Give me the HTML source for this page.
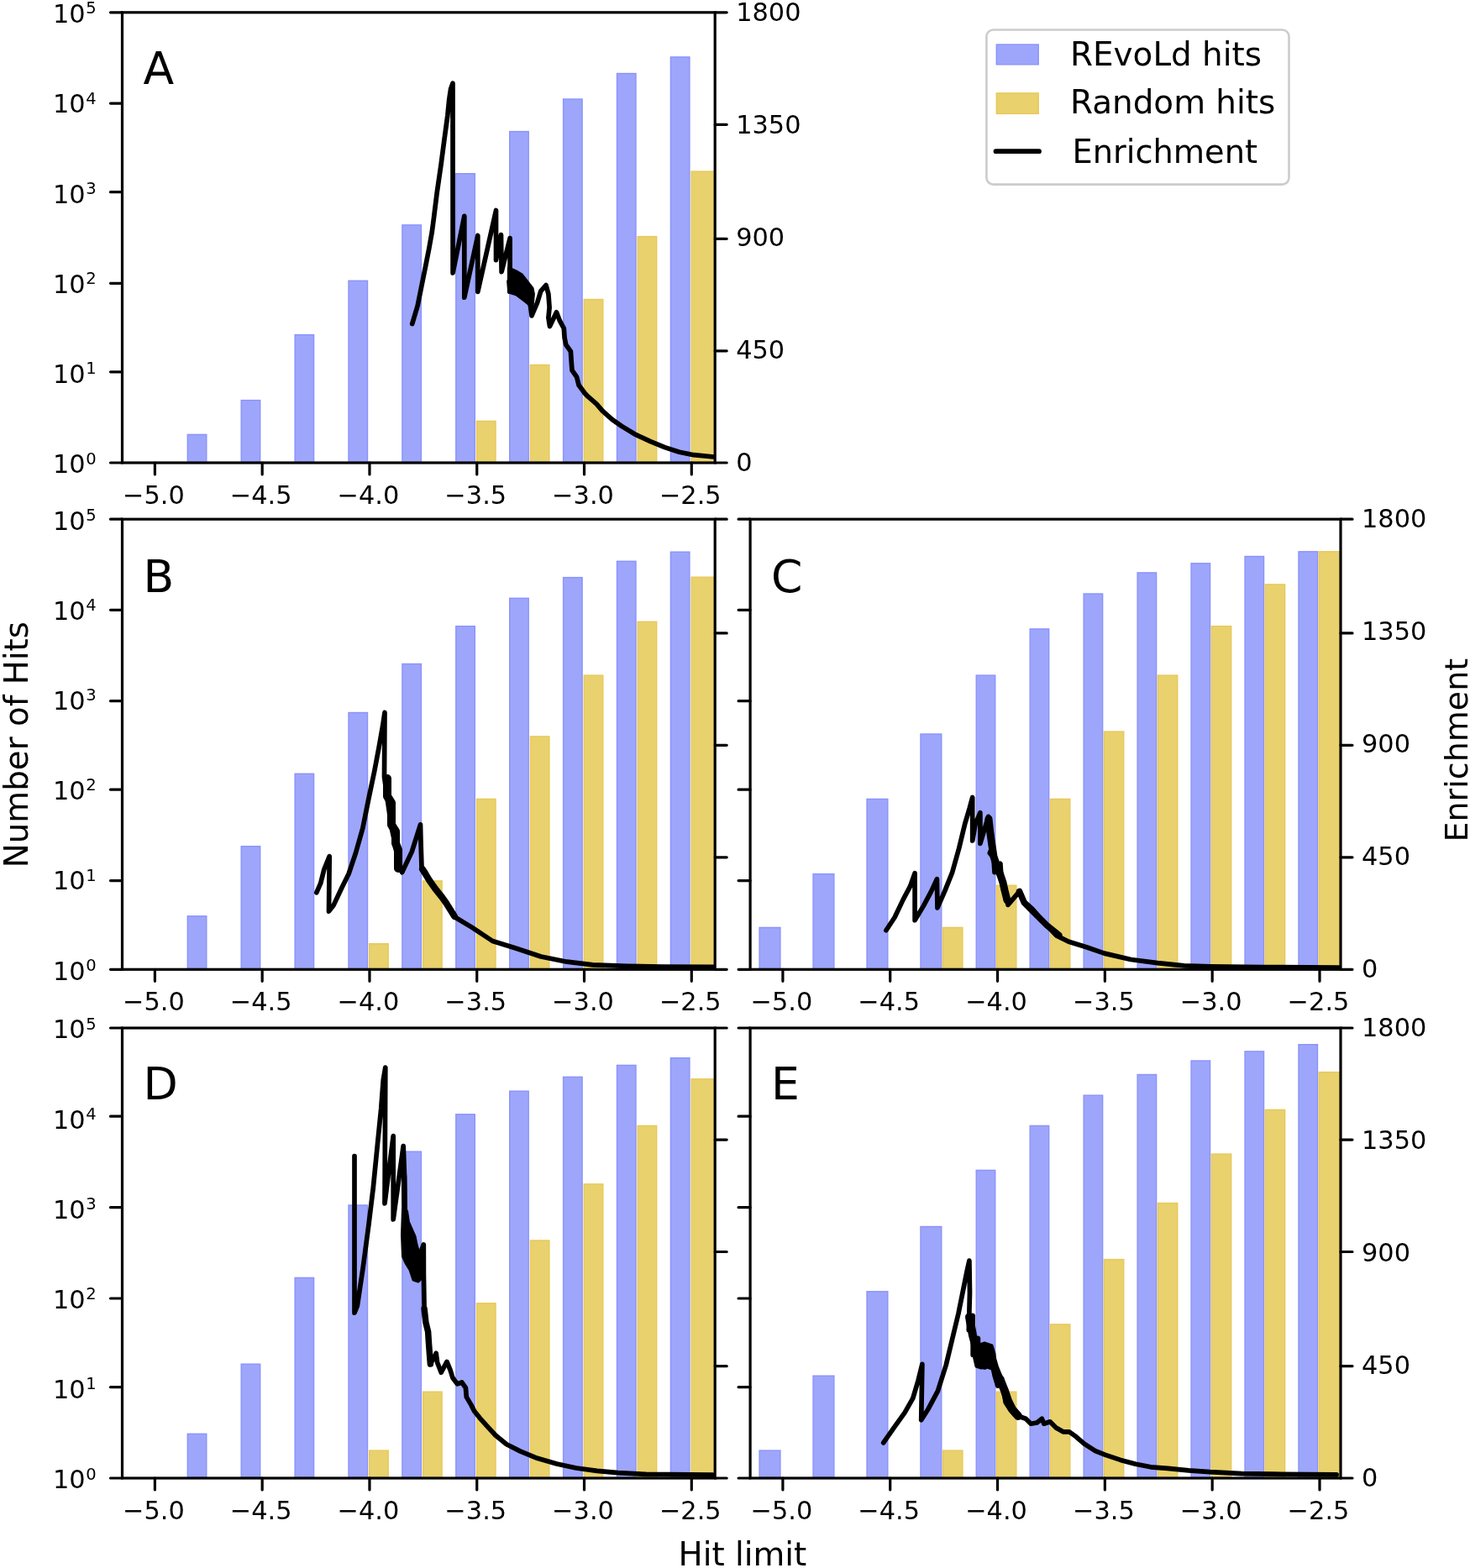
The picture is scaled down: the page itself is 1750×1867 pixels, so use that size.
<!DOCTYPE html>
<html><head><meta charset="utf-8"><title>Hit enrichment</title>
<style>
html,body{margin:0;padding:0;background:#fff;}
body{width:1750px;height:1867px;overflow:hidden;}
svg{display:block;}
text{font-family:'DejaVu Sans', 'Liberation Sans', sans-serif;fill:#000;}
.tl{font-size:30.4px;}
.sup{font-size:19.5px;}
.lab{font-size:38px;}
.lab2{font-size:38.8px;}
.lg{font-size:38.9px;}
.lg3{font-size:38.3px;}
.let{font-size:53.6px;}
.bb{fill:#9ea6fb;stroke:#8a93fb;stroke-width:1.4;}
.gb{fill:#e9d16d;stroke:#e8c85a;stroke-width:1.4;}
.en{fill:none;stroke:#000;stroke-width:5.7;stroke-linejoin:round;stroke-linecap:round;}
.sp{fill:none;stroke:#000;stroke-width:3.2;}
.tk{fill:none;stroke:#000;stroke-width:3.2;stroke-linecap:round;}
</style></head>
<body>
<svg xmlns="http://www.w3.org/2000/svg" width="1750" height="1867" viewBox="0 0 1750 1867">
<rect width="1750" height="1867" fill="#fff"/>
<clipPath id="clipA"><rect x="145.5" y="14.8" width="705.7" height="536.2"/></clipPath>
<g clip-path="url(#clipA)">
<rect class="bb" x="223.3" y="517.4" width="22.5" height="34.3"/>
<rect class="bb" x="287.2" y="476.6" width="22.5" height="75.1"/>
<rect class="bb" x="351.1" y="398.6" width="22.5" height="153.1"/>
<rect class="bb" x="415" y="334.3" width="22.5" height="217.4"/>
<rect class="bb" x="478.9" y="267.9" width="22.5" height="283.8"/>
<rect class="bb" x="542.8" y="206.7" width="22.5" height="345"/>
<rect class="bb" x="606.7" y="156.6" width="22.5" height="395.1"/>
<rect class="bb" x="670.6" y="118" width="22.5" height="433.7"/>
<rect class="bb" x="734.5" y="87.5" width="22.5" height="464.2"/>
<rect class="bb" x="798.4" y="67.9" width="22.5" height="483.8"/>
<rect class="gb" x="567.5" y="501.4" width="22.5" height="50.3"/>
<rect class="gb" x="631.4" y="434.5" width="22.5" height="117.2"/>
<rect class="gb" x="695.3" y="356.5" width="22.5" height="195.2"/>
<rect class="gb" x="759.2" y="281.6" width="22.5" height="270.1"/>
<rect class="gb" x="823.1" y="204.1" width="28.4" height="347.6"/>
<polyline class="en" points="490.7,385.6 497.1,364.2 502.3,338.5 506.6,317.1 510.8,295.7 514.3,276 516.4,260 520.2,229.4 525.1,195.7 528.9,166.7 532.8,137.8 534.7,118.6 536.6,106 539,99.3 539.1,325 552.8,257.3 552.8,354.2 568.8,280.5 568.8,347.3 590.5,250.5 590.5,309.6 596.5,279.6 597.1,323.6 607.1,283.6 607.1,347.2 606,335 614.5,337 622,342 630,352 633,376 639.6,360.5 643.8,346.6 650,339.6 652.9,350.1 654.1,366.1 652.9,378.2 654.5,388.6 662.5,371.8 666.5,382.2 671.3,391 672.1,402.3 673.7,410.3 679.4,418.4 680.2,430.4 681,440.8 686.6,448.9 689,458.5 696.2,468.2 700,472.2 710.3,481.1 717.1,489.1 728.6,499.4 740,507.4 757.1,517.7 774.3,525.7 791.4,532.6 808.6,538.3 825.7,541.7 849.7,544"/>
<polygon points="605.4,318.8 614.5,322.9 621.5,327.1 634,343.1 635.4,350.1 633,376 629.8,362.6 622.9,357.1 614.5,350.8 605.4,348" fill="#000" stroke="#000" stroke-width="3" stroke-linejoin="round"/>
</g>
<rect class="sp" x="145.5" y="14.8" width="705.7" height="536.2"/>
<path class="tk" d="M184.4 551v14M312.18 551v14M439.96 551v14M567.74 551v14M695.52 551v14M823.3 551v14M145.5 551h-14M145.5 442.8h-14M145.5 337.3h-14M145.5 228.7h-14M145.5 123.1h-14M145.5 14.8h-14M851.2 551h14M851.2 417.8h14M851.2 284.3h14M851.2 148.3h14M851.2 14.8h14"/>
<text class="tl" x="182.9" y="600" text-anchor="middle">−5.0</text>
<text class="tl" x="310.68" y="600" text-anchor="middle">−4.5</text>
<text class="tl" x="438.46" y="600" text-anchor="middle">−4.0</text>
<text class="tl" x="566.24" y="600" text-anchor="middle">−3.5</text>
<text class="tl" x="694.02" y="600" text-anchor="middle">−3.0</text>
<text class="tl" x="821.8" y="600" text-anchor="middle">−2.5</text>
<text class="tl" x="101.6" y="563.4" text-anchor="end">10</text>
<text class="sup" x="102.3" y="552.5">0</text>
<text class="tl" x="101.6" y="456.16" text-anchor="end">10</text>
<text class="sup" x="102.3" y="445.26">1</text>
<text class="tl" x="101.6" y="348.92" text-anchor="end">10</text>
<text class="sup" x="102.3" y="338.02">2</text>
<text class="tl" x="101.6" y="241.68" text-anchor="end">10</text>
<text class="sup" x="102.3" y="230.78">3</text>
<text class="tl" x="101.6" y="134.44" text-anchor="end">10</text>
<text class="sup" x="102.3" y="123.54">4</text>
<text class="tl" x="101.6" y="27.2" text-anchor="end">10</text>
<text class="sup" x="102.3" y="16.3">5</text>
<text class="tl" x="876.2" y="561">0</text>
<text class="tl" x="876.2" y="426.95">450</text>
<text class="tl" x="876.2" y="292.9">900</text>
<text class="tl" x="876.2" y="158.85">1350</text>
<text class="tl" x="876.2" y="24.8">1800</text>
<text class="let" x="170.5" y="99.6">A</text>
<clipPath id="clipB"><rect x="145.5" y="618.2" width="705.7" height="536.1"/></clipPath>
<g clip-path="url(#clipB)">
<rect class="bb" x="223.3" y="1090.8" width="22.5" height="64.2"/>
<rect class="bb" x="287.2" y="1007.7" width="22.5" height="147.3"/>
<rect class="bb" x="351.1" y="921.3" width="22.5" height="233.7"/>
<rect class="bb" x="415" y="848.5" width="22.5" height="306.5"/>
<rect class="bb" x="478.9" y="790.5" width="22.5" height="364.5"/>
<rect class="bb" x="542.8" y="745.6" width="22.5" height="409.4"/>
<rect class="bb" x="606.7" y="712.3" width="22.5" height="442.7"/>
<rect class="bb" x="670.6" y="687.6" width="22.5" height="467.4"/>
<rect class="bb" x="734.5" y="668.3" width="22.5" height="486.7"/>
<rect class="bb" x="798.4" y="657.2" width="22.5" height="497.8"/>
<rect class="gb" x="439.7" y="1123.7" width="22.5" height="31.3"/>
<rect class="gb" x="503.6" y="1048.9" width="22.5" height="106.1"/>
<rect class="gb" x="567.5" y="951.4" width="22.5" height="203.6"/>
<rect class="gb" x="631.4" y="876.9" width="22.5" height="278.1"/>
<rect class="gb" x="695.3" y="804.1" width="22.5" height="350.9"/>
<rect class="gb" x="759.2" y="740.3" width="22.5" height="414.7"/>
<rect class="gb" x="823.1" y="687.2" width="28.4" height="467.8"/>
<polyline class="en" points="376.8,1062.8 381.7,1051.7 385.9,1035 392.2,1019.6 391.5,1085.1 397,1078.1 406.8,1057.2 415.1,1040.5 423.5,1015.5 431.8,986.2 438.8,951.4 445.8,918 451.3,888.7 455.5,865.1 458,848.4 457.5,925 461,950 466,985 471,1008 474,1030 478.6,1038.8 490.3,1014.1 500.5,981.8 501,1002.2 502,1032.7 506.1,1037.8 511.2,1048 518.3,1058.2 526.4,1068.4 530.9,1075.3 541.1,1091.7 561.7,1104.1 586.4,1120.5 613.1,1128.7 644,1139 674.9,1145.2 705.7,1148.9 746.9,1150.3 788,1151 849.7,1151.4"/>
<polyline class="en" style="stroke-width:10.0" points="461,927 461,948 466,956 466,982 471,990 471,1004 474,1012 474,1034"/>
<polyline class="en" style="stroke-width:8.0" points="503,1035 511,1048 518,1058 526,1068 531,1075 541,1091"/>
</g>
<rect class="sp" x="145.5" y="618.2" width="705.7" height="536.1"/>
<path class="tk" d="M184.4 1154.3v14M312.18 1154.3v14M439.96 1154.3v14M567.74 1154.3v14M695.52 1154.3v14M823.3 1154.3v14M145.5 1154.3h-14M145.5 1048.6h-14M145.5 940.2h-14M145.5 834.7h-14M145.5 726.3h-14M145.5 618.2h-14M851.2 1154.3h14M851.2 1020.8h14M851.2 887.3h14M851.2 753.9h14M851.2 618.2h14"/>
<text class="tl" x="182.9" y="1203.3" text-anchor="middle">−5.0</text>
<text class="tl" x="310.68" y="1203.3" text-anchor="middle">−4.5</text>
<text class="tl" x="438.46" y="1203.3" text-anchor="middle">−4.0</text>
<text class="tl" x="566.24" y="1203.3" text-anchor="middle">−3.5</text>
<text class="tl" x="694.02" y="1203.3" text-anchor="middle">−3.0</text>
<text class="tl" x="821.8" y="1203.3" text-anchor="middle">−2.5</text>
<text class="tl" x="101.6" y="1166.7" text-anchor="end">10</text>
<text class="sup" x="102.3" y="1155.8">0</text>
<text class="tl" x="101.6" y="1059.48" text-anchor="end">10</text>
<text class="sup" x="102.3" y="1048.58">1</text>
<text class="tl" x="101.6" y="952.26" text-anchor="end">10</text>
<text class="sup" x="102.3" y="941.36">2</text>
<text class="tl" x="101.6" y="845.04" text-anchor="end">10</text>
<text class="sup" x="102.3" y="834.14">3</text>
<text class="tl" x="101.6" y="737.82" text-anchor="end">10</text>
<text class="sup" x="102.3" y="726.92">4</text>
<text class="tl" x="101.6" y="630.6" text-anchor="end">10</text>
<text class="sup" x="102.3" y="619.7">5</text>
<text class="let" x="170.5" y="705.3">B</text>
<clipPath id="clipC"><rect x="893.1" y="618.2" width="702.9" height="536.1"/></clipPath>
<g clip-path="url(#clipC)">
<rect class="bb" x="904.1" y="1104.4" width="24.8" height="50.6"/>
<rect class="bb" x="968.06" y="1040.6" width="24.8" height="114.4"/>
<rect class="bb" x="1032.02" y="951.4" width="24.8" height="203.6"/>
<rect class="bb" x="1095.98" y="874" width="24.8" height="281"/>
<rect class="bb" x="1162.24" y="804.1" width="22.5" height="350.9"/>
<rect class="bb" x="1226.2" y="748.9" width="22.5" height="406.1"/>
<rect class="bb" x="1290.16" y="707" width="22.5" height="448"/>
<rect class="bb" x="1354.12" y="681.9" width="22.5" height="473.1"/>
<rect class="bb" x="1418.08" y="670.8" width="22.5" height="484.2"/>
<rect class="bb" x="1482.04" y="662.5" width="22.5" height="492.5"/>
<rect class="bb" x="1546" y="656.8" width="22.5" height="498.2"/>
<rect class="gb" x="1122.48" y="1104.4" width="23.4" height="50.6"/>
<rect class="gb" x="1186.44" y="1054.2" width="23.4" height="100.8"/>
<rect class="gb" x="1250.4" y="951.4" width="23.4" height="203.6"/>
<rect class="gb" x="1314.36" y="871.1" width="23.4" height="283.9"/>
<rect class="gb" x="1378.32" y="804.1" width="23.4" height="350.9"/>
<rect class="gb" x="1442.28" y="745.6" width="23.4" height="409.4"/>
<rect class="gb" x="1506.24" y="695.9" width="23.4" height="459.1"/>
<rect class="gb" x="1570.2" y="656.8" width="26.1" height="498.2"/>
<polyline class="en" points="1054.9,1107.7 1065.1,1092.3 1075.4,1070.6 1083.4,1055.7 1089.1,1039.7 1089.1,1095.7 1099.4,1078.6 1108.6,1061.4 1115.4,1046.6 1116,1080.9 1124.6,1061.4 1133.7,1038.6 1141.7,1010 1148.6,981.4 1154.3,962 1157.7,949.4 1157.7,1000.9 1161.1,981.4 1166.9,967.7 1166.9,1004.3 1176.6,972.3 1177.1,987.1 1180.6,995.1 1181.7,1007.7 1178.3,1015.7 1182.9,1021.4 1184,1038.6 1190.9,1028.3 1192,1044.3 1195.4,1055.7 1200,1077.4 1213.7,1061.4 1218.3,1072.9 1228.6,1082 1242.7,1098.1 1257.5,1113.9 1272.3,1121.3 1293.4,1127.7 1314.6,1135.1 1346.3,1142.5 1378,1146.7 1409.7,1149.9 1441.4,1150.9 1504.8,1151.5 1593.6,1152"/>
<polyline class="en" style="stroke-width:9.0" points="1177,975 1179,993 1181,1007 1183,1020 1187,1032 1191,1042 1194,1051 1196,1060 1199,1072"/>
<polyline class="en" style="stroke-width:7.5" points="1213.6,1061.4 1219.4,1074.9 1227.1,1082.7 1234.8,1090.4 1246.4,1101.9 1260.8,1113.5"/>
</g>
<rect class="sp" x="893.1" y="618.2" width="702.9" height="536.1"/>
<path class="tk" d="M931.9 1154.3v14M1059.72 1154.3v14M1187.54 1154.3v14M1315.36 1154.3v14M1443.18 1154.3v14M1571 1154.3v14M893.1 1154.3h-14M893.1 1048.6h-14M893.1 940.2h-14M893.1 834.7h-14M893.1 726.3h-14M893.1 618.2h-14M1596 1154.3h14M1596 1020.8h14M1596 887.3h14M1596 753.9h14M1596 618.2h14"/>
<text class="tl" x="930.4" y="1203.3" text-anchor="middle">−5.0</text>
<text class="tl" x="1058.22" y="1203.3" text-anchor="middle">−4.5</text>
<text class="tl" x="1186.04" y="1203.3" text-anchor="middle">−4.0</text>
<text class="tl" x="1313.86" y="1203.3" text-anchor="middle">−3.5</text>
<text class="tl" x="1441.68" y="1203.3" text-anchor="middle">−3.0</text>
<text class="tl" x="1569.5" y="1203.3" text-anchor="middle">−2.5</text>
<text class="tl" x="1621" y="1164.3">0</text>
<text class="tl" x="1621" y="1030.28">450</text>
<text class="tl" x="1621" y="896.25">900</text>
<text class="tl" x="1621" y="762.23">1350</text>
<text class="tl" x="1621" y="628.2">1800</text>
<text class="let" x="918.1" y="705.3">C</text>
<clipPath id="clipD"><rect x="145.5" y="1224" width="705.7" height="536"/></clipPath>
<g clip-path="url(#clipD)">
<rect class="bb" x="223.3" y="1707.3" width="22.5" height="53.4"/>
<rect class="bb" x="287.2" y="1624.2" width="22.5" height="136.5"/>
<rect class="bb" x="351.1" y="1521.4" width="22.5" height="239.3"/>
<rect class="bb" x="415" y="1435" width="22.5" height="325.7"/>
<rect class="bb" x="478.9" y="1371.2" width="22.5" height="389.5"/>
<rect class="bb" x="542.8" y="1326.8" width="22.5" height="433.9"/>
<rect class="bb" x="606.7" y="1299.2" width="22.5" height="461.5"/>
<rect class="bb" x="670.6" y="1282.3" width="22.5" height="478.4"/>
<rect class="bb" x="734.5" y="1268.4" width="22.5" height="492.3"/>
<rect class="bb" x="798.4" y="1259.7" width="22.5" height="501"/>
<rect class="gb" x="439.7" y="1727.1" width="22.5" height="33.6"/>
<rect class="gb" x="503.6" y="1657.2" width="22.5" height="103.5"/>
<rect class="gb" x="567.5" y="1551.8" width="22.5" height="208.9"/>
<rect class="gb" x="631.4" y="1477" width="22.5" height="283.7"/>
<rect class="gb" x="695.3" y="1409.9" width="22.5" height="350.8"/>
<rect class="gb" x="759.2" y="1340.4" width="22.5" height="420.3"/>
<rect class="gb" x="823.1" y="1284.8" width="28.4" height="475.9"/>
<polyline class="en" points="422,1376.5 422,1563.2 425.4,1554.6 432.3,1508.4 439.1,1457 444.3,1414.2 449.4,1362.8 453.7,1320 456.3,1285.7 458.8,1271.1 458,1433 468.2,1352.5 468.2,1451.9 480.2,1364.5 481.5,1400 482,1440 485.6,1465.7 489,1482.9 494.1,1522.3 497.6,1500 504.3,1482 504.4,1517.2 505.1,1558.3 506.9,1574.7 509.6,1585.7 510.5,1599.4 511.5,1613.1 512.4,1624.1 519.2,1611.3 520.6,1622.3 525.2,1634.2 532,1621.4 536.1,1631.4 538.9,1640.5 544.4,1647.9 549.8,1646 554.4,1652.4 555.3,1663.4 560.8,1672.6 564.5,1679.9 570.9,1688.1 579.9,1698.2 589.9,1709 603.1,1719.8 619.7,1728.1 639.6,1736.3 662.8,1743 686,1748 710.9,1751.3 735.7,1753.7 768.9,1755.4 848.4,1756.2"/>
<polyline class="en" style="stroke-width:6.5" points="481,1400 481.5,1440"/>
<polyline class="en" style="stroke-width:7.5" points="505.1,1558.3 506.9,1574.7 509.6,1585.7 510.5,1599.4 511.5,1613.1 512.4,1624.1"/>
<polygon points="479.5,1440 484.5,1442 486.5,1455 490,1463 494,1472 496,1482 498,1489 502,1492 504,1500 504,1520 498,1526 492,1524 488,1512 483,1504 479.5,1496 478.5,1470" fill="#000" stroke="#000" stroke-width="3" stroke-linejoin="round"/>
</g>
<rect class="sp" x="145.5" y="1224" width="705.7" height="536"/>
<path class="tk" d="M184.4 1760v14M312.18 1760v14M439.96 1760v14M567.74 1760v14M695.52 1760v14M823.3 1760v14M145.5 1760h-14M145.5 1651.7h-14M145.5 1546h-14M145.5 1437.7h-14M145.5 1329.2h-14M145.5 1224h-14M851.2 1760h14M851.2 1626.7h14M851.2 1490.5h14M851.2 1357.1h14M851.2 1224h14"/>
<text class="tl" x="182.9" y="1809" text-anchor="middle">−5.0</text>
<text class="tl" x="310.68" y="1809" text-anchor="middle">−4.5</text>
<text class="tl" x="438.46" y="1809" text-anchor="middle">−4.0</text>
<text class="tl" x="566.24" y="1809" text-anchor="middle">−3.5</text>
<text class="tl" x="694.02" y="1809" text-anchor="middle">−3.0</text>
<text class="tl" x="821.8" y="1809" text-anchor="middle">−2.5</text>
<text class="tl" x="101.6" y="1772.4" text-anchor="end">10</text>
<text class="sup" x="102.3" y="1761.5">0</text>
<text class="tl" x="101.6" y="1665.2" text-anchor="end">10</text>
<text class="sup" x="102.3" y="1654.3">1</text>
<text class="tl" x="101.6" y="1558" text-anchor="end">10</text>
<text class="sup" x="102.3" y="1547.1">2</text>
<text class="tl" x="101.6" y="1450.8" text-anchor="end">10</text>
<text class="sup" x="102.3" y="1439.9">3</text>
<text class="tl" x="101.6" y="1343.6" text-anchor="end">10</text>
<text class="sup" x="102.3" y="1332.7">4</text>
<text class="tl" x="101.6" y="1236.4" text-anchor="end">10</text>
<text class="sup" x="102.3" y="1225.5">5</text>
<text class="let" x="170.5" y="1308.5">D</text>
<clipPath id="clipE"><rect x="893.1" y="1224" width="702.9" height="536"/></clipPath>
<g clip-path="url(#clipE)">
<rect class="bb" x="904.1" y="1727.1" width="24.8" height="33.6"/>
<rect class="bb" x="968.06" y="1638.2" width="24.8" height="122.5"/>
<rect class="bb" x="1032.02" y="1537.8" width="24.8" height="222.9"/>
<rect class="bb" x="1095.98" y="1460.5" width="24.8" height="300.2"/>
<rect class="bb" x="1162.24" y="1393.4" width="22.5" height="367.3"/>
<rect class="bb" x="1226.2" y="1340.4" width="22.5" height="420.3"/>
<rect class="bb" x="1290.16" y="1304.2" width="22.5" height="456.5"/>
<rect class="bb" x="1354.12" y="1279.5" width="22.5" height="481.2"/>
<rect class="bb" x="1418.08" y="1263" width="22.5" height="497.7"/>
<rect class="bb" x="1482.04" y="1251.9" width="22.5" height="508.8"/>
<rect class="bb" x="1546" y="1243.7" width="22.5" height="517"/>
<rect class="gb" x="1122.48" y="1727.1" width="23.4" height="33.6"/>
<rect class="gb" x="1186.44" y="1657.2" width="23.4" height="103.5"/>
<rect class="gb" x="1250.4" y="1576.9" width="23.4" height="183.8"/>
<rect class="gb" x="1314.36" y="1499.6" width="23.4" height="261.1"/>
<rect class="gb" x="1378.32" y="1432.5" width="23.4" height="328.2"/>
<rect class="gb" x="1442.28" y="1374.1" width="23.4" height="386.6"/>
<rect class="gb" x="1506.24" y="1321.4" width="23.4" height="439.3"/>
<rect class="gb" x="1570.2" y="1276.6" width="26.1" height="484.1"/>
<polyline class="en" points="1051.7,1717.9 1064.6,1699.4 1077,1682.1 1086.8,1664.9 1093,1644 1097.9,1624.3 1096.7,1690.8 1105.3,1677.2 1116.4,1656.3 1126.2,1625.5 1133.6,1594.7 1141,1563.9 1147.2,1533.1 1150.9,1514.6 1153.9,1501.1 1154.5,1539.3 1153.3,1583.6 1158.2,1566.4 1158.2,1613.2 1164.4,1593.5 1164.4,1625.5 1172.4,1602.1 1172.4,1628 1180.4,1605.8 1181.6,1625.5 1184.1,1637.8 1187.8,1650.1 1192.7,1641.5 1194.8,1655.6 1197.2,1670 1202,1677.2 1208,1684.4 1214,1686.8 1221.2,1689.2 1227.2,1695.2 1234.4,1694 1240.4,1689.2 1242.8,1695.2 1250,1692.8 1257.2,1700 1265.6,1704.8 1272.8,1704.8 1281.2,1710.8 1290.8,1719.2 1304,1727.6 1316,1732.4 1334,1738.4 1352,1743.2 1370,1746.8 1390,1748.3 1415.1,1750.8 1440.3,1752.7 1478,1754.6 1515.7,1755.2 1591.1,1755.9"/>
<polyline class="en" style="stroke-width:10.0" points="1154,1568 1158,1590 1162,1605 1165,1612 1172,1612 1180,1614 1184,1628 1188,1638 1192,1646 1196,1656 1200,1668 1205,1678 1212,1686"/>
<polygon points="1159,1598 1166,1601 1172,1599 1181,1602 1184,1612 1185,1626 1181,1630 1175,1628 1168,1629 1162,1627 1159,1614" fill="#000" stroke="#000" stroke-width="3" stroke-linejoin="round"/>
</g>
<rect class="sp" x="893.1" y="1224" width="702.9" height="536"/>
<path class="tk" d="M931.9 1760v14M1059.72 1760v14M1187.54 1760v14M1315.36 1760v14M1443.18 1760v14M1571 1760v14M893.1 1760h-14M893.1 1651.7h-14M893.1 1546h-14M893.1 1437.7h-14M893.1 1329.2h-14M893.1 1224h-14M1596 1760h14M1596 1626.7h14M1596 1490.5h14M1596 1357.1h14M1596 1224h14"/>
<text class="tl" x="930.4" y="1809" text-anchor="middle">−5.0</text>
<text class="tl" x="1058.22" y="1809" text-anchor="middle">−4.5</text>
<text class="tl" x="1186.04" y="1809" text-anchor="middle">−4.0</text>
<text class="tl" x="1313.86" y="1809" text-anchor="middle">−3.5</text>
<text class="tl" x="1441.68" y="1809" text-anchor="middle">−3.0</text>
<text class="tl" x="1569.5" y="1809" text-anchor="middle">−2.5</text>
<text class="tl" x="1621" y="1770">0</text>
<text class="tl" x="1621" y="1636">450</text>
<text class="tl" x="1621" y="1502">900</text>
<text class="tl" x="1621" y="1368">1350</text>
<text class="tl" x="1621" y="1234">1800</text>
<text class="let" x="918.1" y="1308.7">E</text>
<rect x="1174.4" y="35.5" width="360.1" height="184.1" rx="8" ry="8" fill="#fff" stroke="#cccccc" stroke-width="2.6"/>
<rect class="bb" x="1186.3" y="53" width="49.9" height="23.8"/>
<rect class="gb" x="1186.3" y="110.9" width="49.9" height="24.5"/>
<path d="M1185.5 180.2H1237" stroke="#000" stroke-width="5.7" stroke-linecap="round"/>
<text class="lg" x="1274" y="77.5">REvoLd hits</text>
<text class="lg" x="1274" y="135.4">Random hits</text>
<text class="lg3" x="1276.6" y="193.8">Enrichment</text>
<text class="lab2" x="883.9" y="1864" text-anchor="middle">Hit limit</text>
<text class="lab2" transform="translate(33.2 886.6) rotate(-90)" text-anchor="middle">Number of Hits</text>
<text class="lab" transform="translate(1746.6 893.2) rotate(-90)" text-anchor="middle">Enrichment</text>
</svg>
</body></html>
